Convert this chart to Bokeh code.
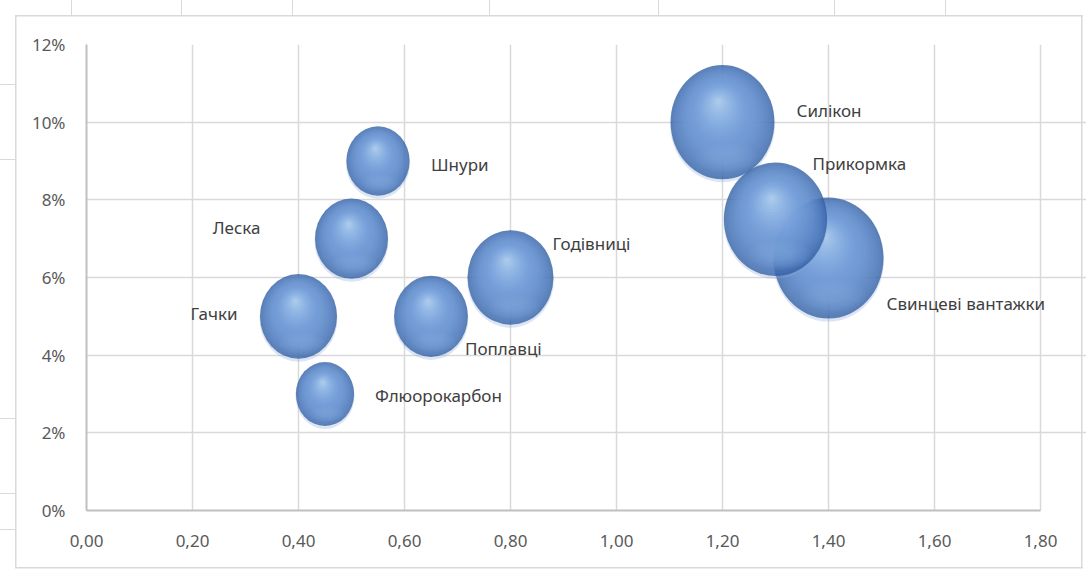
import math

from bokeh.core.properties import value
from bokeh.embed import file_html
from bokeh.models import ColumnDataSource, FixedTicker, Range1d
from bokeh.plotting import figure
from bokeh.resources import INLINE

# ---- data -------------------------------------------------------------
products = ["Гачки", "Флюорокарбон", "Леска", "Шнури", "Поплавці",
            "Годівниці", "Силікон", "Свинцеві вантажки", "Прикормка"]
price_index = [0.40, 0.45, 0.50, 0.55, 0.65, 0.80, 1.20, 1.40, 1.30]
margin_pct = [5.0, 3.0, 7.0, 9.0, 5.0, 6.0, 10.0, 6.5, 7.5]
sales_volume = [49, 28, 44, 33, 45, 61, 89, 100, 88]

x_ticks = [0, 0.2, 0.4, 0.6, 0.8, 1.0, 1.2, 1.4, 1.6, 1.8]
x_tick_labels = ["0,00", "0,20", "0,40", "0,60", "0,80",
                 "1,00", "1,20", "1,40", "1,60", "1,80"]
y_ticks = [0, 2, 4, 6, 8, 10, 12]
y_tick_labels = ["0%", "2%", "4%", "6%", "8%", "10%", "12%"]

# ---- layout constants -------------------------------------------------
W, H = 1086, 573
FRAME_L, FRAME_T, FRAME_B = 86, 44, 510
AXIS_R = 1040                       # pixel where x = 1.8 sits
X_MAX, Y_MAX = 1.8, 12
PX_X = X_MAX / (AXIS_R - FRAME_L)   # data units per screen pixel
PX_Y = Y_MAX / (FRAME_B - FRAME_T)
X_VIEW = (W - FRAME_L) * PX_X       # frame runs to the right edge so labels are not cut

BUBBLE_SCALE = 11.0    # px of diameter per sqrt(volume)
ASPECT = 1.10          # bubbles are drawn slightly taller than wide
FONT = value("Noto Sans")
BORDER = "#d9d9d9"

# label placement: (x offset px, y offset px, align)
label_placement = {
    "Гачки": (-61, -3, "right"),
    "Флюорокарбон": (50, 1, "left"),
    "Леска": (-91, -11, "right"),
    "Шнури": (53, 3, "left"),
    "Поплавці": (34, 32, "left"),
    "Годівниці": (42, -34, "left"),
    "Силікон": (74, -12, "left"),
    "Свинцеві вантажки": (58, 45, "left"),
    "Прикормка": (37, -56, "left"),
}

p = figure(width=W, height=H, title=None,
           x_range=Range1d(0, X_VIEW), y_range=Range1d(0, Y_MAX),
           output_backend="svg", toolbar_location=None,
           min_border_left=FRAME_L, min_border_right=0,
           min_border_top=FRAME_T, min_border_bottom=H - FRAME_B)
p.outline_line_color = None

# transparent canvas; the page element paints white, the chart-area border
# and the faint sheet cell lines around it
p.background_fill_alpha = 0
p.border_fill_alpha = 0
line = f"linear-gradient({BORDER}, {BORDER})"
sheet_cols = [71, 181, 292, 489, 658, 834, 945]
sheet_rows = [84, 159, 418, 493, 529]
bg = [
    f"{line} 15px 15px / 1068px 1.5px no-repeat",
    f"{line} 15px 567px / 1068px 1.5px no-repeat",
    f"{line} 15px 15px / 1.5px 553px no-repeat",
    f"{line} 1081px 15px / 1.5px 553px no-repeat",
]
bg += [f"{line} {c}px 0px / 1px 15px no-repeat" for c in sheet_cols]
bg += [f"{line} 0px {r}px / 15px 1px no-repeat" for r in sheet_rows]
p.styles = {"background": ", ".join(bg) + ", white"}

for ax, ticks, labels, lim in ((p.xaxis, x_ticks, x_tick_labels, X_MAX),
                               (p.yaxis, y_ticks, y_tick_labels, Y_MAX)):
    ax.ticker = FixedTicker(ticks=ticks)
    ax.bounds = (0, lim)
    ax.major_label_overrides = dict(zip(ticks, labels))
    ax.major_tick_line_color = None
    ax.minor_tick_line_color = None
    ax.axis_line_color = "#bfbfbf"
    ax.axis_line_width = 2
    ax.major_label_text_font = "Noto Sans"
    ax.major_label_text_font_size = "17px"
    ax.major_label_text_color = "#595959"
p.yaxis.major_label_standoff = 15
p.xaxis.major_label_standoff = 18

for g in (p.xgrid, p.ygrid):
    g.grid_line_color = "#d9d9d9"
    g.grid_line_width = 1.5
p.xgrid.ticker = FixedTicker(ticks=x_ticks)
p.ygrid.ticker = FixedTicker(ticks=y_ticks)
p.ygrid.bounds = (0, X_MAX)
p.xgrid.bounds = (0, Y_MAX)


# ---- shaded bubbles ---------------------------------------------------
def lerp_color(stops, t):
    for (t0, c0), (t1, c1) in zip(stops, stops[1:]):
        if t <= t1:
            f = (t - t0) / (t1 - t0)
            return "#%02x%02x%02x" % tuple(int(round(a + (b - a) * f)) for a, b in zip(c0, c1))
    return "#%02x%02x%02x" % stops[-1][1]


GLOSS = [(0.0, (118, 160, 222)), (0.45, (128, 170, 228)),
         (0.8, (172, 207, 240)), (1.0, (210, 230, 250))]
N_GLOSS = 28

layers = dict(x=[], y=[], w=[], h=[], color=[], alpha=[])


def add_layer(x, y, w, h, color, alpha):
    layers["x"].append(x)
    layers["y"].append(y)
    layers["w"].append(w)
    layers["h"].append(h)
    layers["color"].append(color)
    layers["alpha"].append(alpha)


for cx, cy, vol in zip(price_index, margin_pct, sales_volume):
    w = BUBBLE_SCALE * math.sqrt(vol)
    h = w * ASPECT
    a, b = w / 2, h / 2
    # soft drop shadow under the sphere
    add_layer(cx, cy - 2 * PX_Y, w + 1, h + 2, "#8aaadc", 0.3)
    # translucent body
    add_layer(cx, cy, w, h, "#2e5ca2", 0.75)
    # glossy highlight towards upper left
    hx, hy = -0.08 * a * PX_X, 0.36 * b * PX_Y
    for k in range(1, N_GLOSS + 1):
        t = k / N_GLOSS
        s = 1 - 0.95 * t
        add_layer(cx + t * hx, cy + t * hy, w * s, h * s, lerp_color(GLOSS, t), 0.125)
    # faint reflection along the bottom
    for j in range(6):
        s = 1 - 0.12 * j
        add_layer(cx + 0.08 * a * PX_X, cy - 0.62 * b * PX_Y,
                  w * 0.6 * s, h * 0.26 * s, "#8aaee0", 0.08)

p.ellipse(x="x", y="y", width="w", height="h", width_units="screen",
          height_units="screen", fill_color="color", fill_alpha="alpha",
          line_color=None, source=ColumnDataSource(layers))

# ---- data labels ------------------------------------------------------
labels = ColumnDataSource(dict(
    x=price_index, y=margin_pct, name=products,
    dx=[label_placement[n][0] for n in products],
    dy=[label_placement[n][1] for n in products],
    align=[label_placement[n][2] for n in products],
))
p.text(x="x", y="y", text="name", x_offset="dx", y_offset="dy",
       text_align="align", text_baseline="middle", text_font=FONT,
       text_font_size="17px", text_color="#404040", source=labels)

open("out.html", "w").write(file_html(p, INLINE))
